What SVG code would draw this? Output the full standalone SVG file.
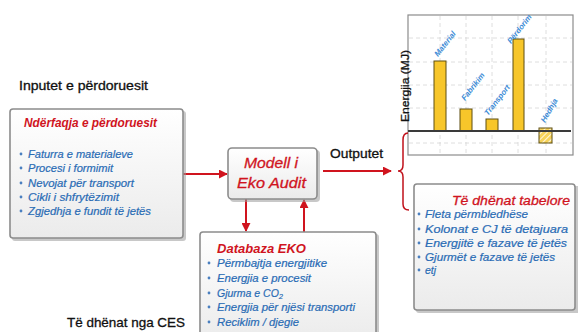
<svg xmlns="http://www.w3.org/2000/svg" width="578" height="332" viewBox="0 0 578 332">
<defs>
<linearGradient id="boxfill" x1="0" y1="0" x2="0" y2="1">
<stop offset="0" stop-color="#ffffff"/>
<stop offset="1" stop-color="#ebebeb"/>
</linearGradient>
<pattern id="hatch" width="4" height="4" patternUnits="userSpaceOnUse" patternTransform="rotate(45)">
<rect width="4" height="4" fill="#f7d35a"/>
<line x1="0" y1="0" x2="0" y2="4" stroke="#ffffff" stroke-width="1.6"/>
</pattern>
<marker id="ah" viewBox="0 0 10 10" refX="9" refY="5" markerWidth="4.5" markerHeight="4.5" orient="auto" markerUnits="strokeWidth">
<path d="M0,0 L10,5 L0,10 z" fill="#d0141e"/>
</marker>
</defs>
<style>
.box{fill:url(#boxfill);stroke:#8c8c8c;stroke-width:1.6}
.shadow{fill:#9a9a9a;opacity:0.55}
.lbl{font-family:"Liberation Sans",Arial,sans-serif;font-size:13px;fill:#111;stroke:#111;stroke-width:0.3}
.ttl{font-family:"Liberation Sans",Arial,sans-serif;font-style:italic;font-weight:bold;fill:#d0141e}
.ttlr{font-family:"Liberation Sans",Arial,sans-serif;font-style:italic;fill:#d0141e;stroke:#d0141e;stroke-width:0.3}
.item{font-family:"Liberation Sans",Arial,sans-serif;font-style:italic;font-size:10.5px;fill:#2a6cb5;stroke:#2a6cb5;stroke-width:0.2}
.bul{fill:#4a7fc0}
.conn{stroke:#d0141e;stroke-width:2;fill:none}
.grid{stroke:#d6d6d6;stroke-width:0.8;stroke-dasharray:4 3;fill:none}
.bar{fill:#f7c62a;stroke:#5e4e10;stroke-width:1}
.blab{font-family:"Liberation Sans",Arial,sans-serif;font-style:italic;font-weight:bold;font-size:7.8px;fill:#3c8bd6}
</style>
<rect width="578" height="332" fill="#ffffff"/>

<text class="lbl" x="19" y="90" textLength="129" lengthAdjust="spacingAndGlyphs">Inputet e përdoruesit</text>
<text class="lbl" x="330" y="158" textLength="53" lengthAdjust="spacingAndGlyphs">Outputet</text>
<text class="lbl" x="67" y="327" textLength="118" lengthAdjust="spacingAndGlyphs">Të dhënat nga CES</text>

<g id="chart">
<rect x="408" y="15" width="165" height="140" fill="#ffffff" stroke="#8c8c8c" stroke-width="1.2"/>
<path class="grid" d="M440,16V154 M466,16V154 M492,16V154 M518,16V154 M546,16V154 M409,38H572 M409,62H572 M409,85H572 M409,108H572 M409,143H572"/>
<rect class="bar" x="434" y="61" width="12" height="70"/>
<rect class="bar" x="460" y="109" width="12" height="22"/>
<rect class="bar" x="486" y="119" width="12" height="12"/>
<rect class="bar" x="513" y="39" width="11" height="92"/>
<rect x="539" y="128" width="13" height="15" fill="url(#hatch)" stroke="#5e4e10" stroke-width="1"/>
<line x1="408" y1="131" x2="571" y2="131" stroke="#3a3a3a" stroke-width="2"/>
<text class="blab" transform="translate(438,57) rotate(-52)">Material</text>
<text class="blab" transform="translate(465,101) rotate(-52)">Fabrikim</text>
<text class="blab" transform="translate(488,116) rotate(-52)">Transport</text>
<text class="blab" transform="translate(511,44) rotate(-52)">Përdorim</text>
<text class="blab" transform="translate(545,123) rotate(-60)">Hedhja</text>
<text font-family="Liberation Sans, Arial, sans-serif" font-size="10.5" fill="#111" stroke="#111" stroke-width="0.25" transform="translate(409,122) rotate(-90)" textLength="72" lengthAdjust="spacingAndGlyphs">Energjia (MJ)</text>
</g>

<g id="connectors">
<line class="conn" x1="183" y1="174" x2="227" y2="174" marker-end="url(#ah)"/>
<line class="conn" x1="323" y1="171" x2="391" y2="171" marker-end="url(#ah)"/>
<line class="conn" x1="246" y1="199" x2="246" y2="231" marker-end="url(#ah)"/>
<line class="conn" x1="304" y1="232" x2="304" y2="200" marker-end="url(#ah)"/>
<path d="M408,133 Q403,133 403,140 L403,165 Q403,171 398,171 Q403,171 403,177 L403,204 Q403,210 409,210" fill="none" stroke="#c0101a" stroke-width="1.5"/>
</g>

<g id="user-interface">
<rect class="shadow" x="12" y="111" width="174" height="130" rx="3"/>
<rect class="box" x="10" y="109" width="173" height="129" rx="3"/>
<text class="ttl" x="24" y="127" font-size="12.5" textLength="133" lengthAdjust="spacingAndGlyphs">Ndërfaqja e përdoruesit</text>
<circle class="bul" cx="21" cy="154" r="1.4"/><text class="item" x="28" y="158" textLength="105" lengthAdjust="spacingAndGlyphs">Faturra e materialeve</text>
<circle class="bul" cx="21" cy="168" r="1.4"/><text class="item" x="28" y="172" textLength="85" lengthAdjust="spacingAndGlyphs">Procesi  i formimit</text>
<circle class="bul" cx="21" cy="183" r="1.4"/><text class="item" x="28" y="187" textLength="106" lengthAdjust="spacingAndGlyphs">Nevojat për transport</text>
<circle class="bul" cx="21" cy="197" r="1.4"/><text class="item" x="28" y="201" textLength="91" lengthAdjust="spacingAndGlyphs">Cikli i shfrytëzimit</text>
<circle class="bul" cx="21" cy="211" r="1.4"/><text class="item" x="28" y="215" textLength="123" lengthAdjust="spacingAndGlyphs">Zgjedhja e fundit të jetës</text>
</g>

<g id="eco-audit-model">
<rect class="shadow" x="230" y="150" width="90" height="52" rx="4"/>
<rect class="box" x="228" y="148" width="89" height="51" rx="4"/>
<text class="ttlr" x="244" y="168" font-size="15" textLength="54" lengthAdjust="spacingAndGlyphs">Modell i</text>
<text class="ttlr" x="237" y="188" font-size="15" textLength="69" lengthAdjust="spacingAndGlyphs">Eko Audit</text>
</g>

<g id="eco-database">
<rect class="shadow" x="202" y="234" width="177" height="110" rx="3"/>
<rect class="box" x="200" y="232" width="176" height="110" rx="3"/>
<text class="ttl" x="217" y="253" font-size="13" textLength="89" lengthAdjust="spacingAndGlyphs">Databaza EKO</text>
<circle class="bul" cx="209" cy="263" r="1.4"/><text class="item" x="217" y="267" textLength="110" lengthAdjust="spacingAndGlyphs">Përmbajtja energjitike</text>
<circle class="bul" cx="209" cy="278" r="1.4"/><text class="item" x="217" y="282" textLength="94" lengthAdjust="spacingAndGlyphs">Energjia e procesit</text>
<circle class="bul" cx="209" cy="293" r="1.4"/><text class="item" x="217" y="297">Gjurma e CO<tspan font-size="7.5" dy="2">2</tspan></text>
<circle class="bul" cx="209" cy="307" r="1.4"/><text class="item" x="217" y="311" textLength="138" lengthAdjust="spacingAndGlyphs">Energjia për njësi transporti</text>
<circle class="bul" cx="209" cy="322" r="1.4"/><text class="item" x="217" y="326" textLength="82" lengthAdjust="spacingAndGlyphs">Reciklim / djegie</text>
</g>

<g id="tabular-data">
<rect class="shadow" x="416" y="186" width="164" height="127" rx="3"/>
<rect class="box" x="414" y="184" width="161" height="126" rx="3"/>
<text class="ttlr" x="452" y="205" font-size="13" textLength="118" lengthAdjust="spacingAndGlyphs">Të dhënat tabelore</text>
<circle class="bul" cx="419" cy="214" r="1.4"/><text class="item" x="425" y="218" textLength="103" lengthAdjust="spacingAndGlyphs">Fleta përmbledhëse</text>
<circle class="bul" cx="419" cy="229" r="1.4"/><text class="item" x="425" y="233" textLength="143" lengthAdjust="spacingAndGlyphs">Kolonat  e CJ të detajuara</text>
<circle class="bul" cx="419" cy="243" r="1.4"/><text class="item" x="425" y="247" textLength="142" lengthAdjust="spacingAndGlyphs">Energjitë e fazave të jetës</text>
<circle class="bul" cx="419" cy="257" r="1.4"/><text class="item" x="425" y="261" textLength="130" lengthAdjust="spacingAndGlyphs">Gjurmët e fazave të jetës</text>
<circle class="bul" cx="419" cy="270" r="1.4"/><text class="item" x="425" y="274">etj</text>
</g>
</svg>
